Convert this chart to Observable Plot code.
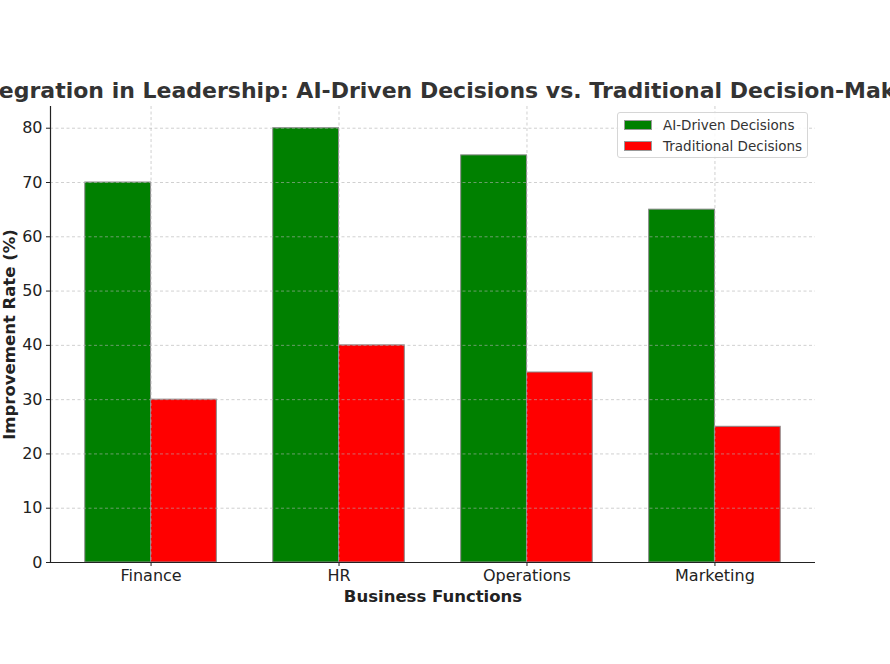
<!DOCTYPE html>
<html>
<head>
<meta charset="utf-8">
<script src="https://cdn.jsdelivr.net/npm/d3@7"></script>
<script src="https://cdn.jsdelivr.net/npm/@observablehq/plot@0.6"></script>
<style>
  html, body { margin: 0; padding: 0; background: #fff; overflow: hidden; }
  #wrap { position: relative; width: 890px; height: 664px; font-family: "DejaVu Sans", sans-serif; }
  .legend { position: absolute; left: 617px; top: 112px; width: 191px; height: 46px; box-sizing: border-box;
    border: 1px solid #d6d6d6; border-radius: 3px; background: rgba(255,255,255,0.85); font-size: 13.5px; color: #333; }
  .legend .row { position: absolute; left: 6px; height: 12px; display: flex; align-items: center; }
  .legend .sw { width: 28px; height: 10px; box-sizing: border-box; border: 1px solid #999; margin-right: 11px; }
</style>
</head>
<body>
<div id="wrap"></div>
<script>
const title = "AI Integration in Leadership: AI-Driven Decisions vs. Traditional Decision-Making";
const categories = ["Finance", "HR", "Operations", "Marketing"];
const aiValues = [70, 80, 75, 65];
const tradValues = [30, 40, 35, 25];
const seriesNames = ["AI-Driven Decisions", "Traditional Decisions"];
const seriesColors = ["#008000", "#ff0000"];
const yTicks = [0, 10, 20, 30, 40, 50, 60, 70, 80];

const barWidth = 0.35;
const bars = [];
categories.forEach((c, i) => {
  bars.push({series: seriesNames[0], x1: i - barWidth, x2: i, value: aiValues[i]});
  bars.push({series: seriesNames[1], x1: i, x2: i + barWidth, value: tradValues[i]});
});
const xPad = (categories.length - 1 + 2 * barWidth) * 0.05;
const xDomain = [-barWidth - xPad, categories.length - 1 + barWidth + xPad];
const yDomain = [0, d3.max([...aiValues, ...tradValues]) * 1.05];
const xIdx = categories.map((_, i) => i);

const chart = Plot.plot({
  width: 890,
  height: 664,
  marginLeft: 50,
  marginRight: 75,
  marginTop: 106,
  marginBottom: 102,
  style: {fontFamily: "DejaVu Sans, sans-serif", fontSize: "16px", color: "#222", background: "white"},
  x: {type: "linear", domain: xDomain},
  y: {domain: yDomain},
  color: {domain: seriesNames, range: seriesColors},
  marks: [
    Plot.rect(bars, {x1: "x1", x2: "x2", y1: 0, y2: "value", fill: "series", stroke: "#8a8a8a", strokeWidth: 1}),
    Plot.gridY(yTicks, {stroke: "#b0b0b0", strokeOpacity: 0.6, strokeDasharray: "3,2.5"}),
    Plot.gridX(xIdx, {stroke: "#b0b0b0", strokeOpacity: 0.6, strokeDasharray: "3,2.5"}),
    Plot.axisY(yTicks, {tickSize: 4, tickPadding: 4, label: null, fontSize: 16, stroke: "#222"}),
    Plot.axisX(xIdx, {tickSize: 4, tickPadding: 3, label: null, fontSize: 16, tickFormat: i => categories[i], stroke: "#222"}),
    Plot.ruleX([xDomain[0]], {stroke: "#222", strokeWidth: 1.2}),
    Plot.ruleY([0], {stroke: "#222", strokeWidth: 1.2}),
    Plot.text([title], {frameAnchor: "top", dy: -16, fontSize: 22, fontWeight: "bold", fill: "#333", lineAnchor: "middle"}),
    Plot.text(["Improvement Rate (%)"], {frameAnchor: "left", textAnchor: "middle", dx: -41, rotate: -90, fontSize: 16.5, fontWeight: "bold", fill: "#222"}),
    Plot.text(["Business Functions"], {frameAnchor: "bottom", dy: 34, fontSize: 16.5, fontWeight: "bold", fill: "#222", lineAnchor: "middle"})
  ]
});
const wrap = document.getElementById("wrap");
wrap.appendChild(chart);

const legend = document.createElement("div");
legend.className = "legend";
seriesNames.forEach((name, i) => {
  const row = document.createElement("div");
  row.className = "row";
  row.style.top = (6 + i * 21) + "px";
  const sw = document.createElement("span");
  sw.className = "sw";
  sw.style.background = seriesColors[i];
  const label = document.createElement("span");
  label.textContent = name;
  row.appendChild(sw);
  row.appendChild(label);
  legend.appendChild(row);
});
wrap.appendChild(legend);
</script>
</body>
</html>
